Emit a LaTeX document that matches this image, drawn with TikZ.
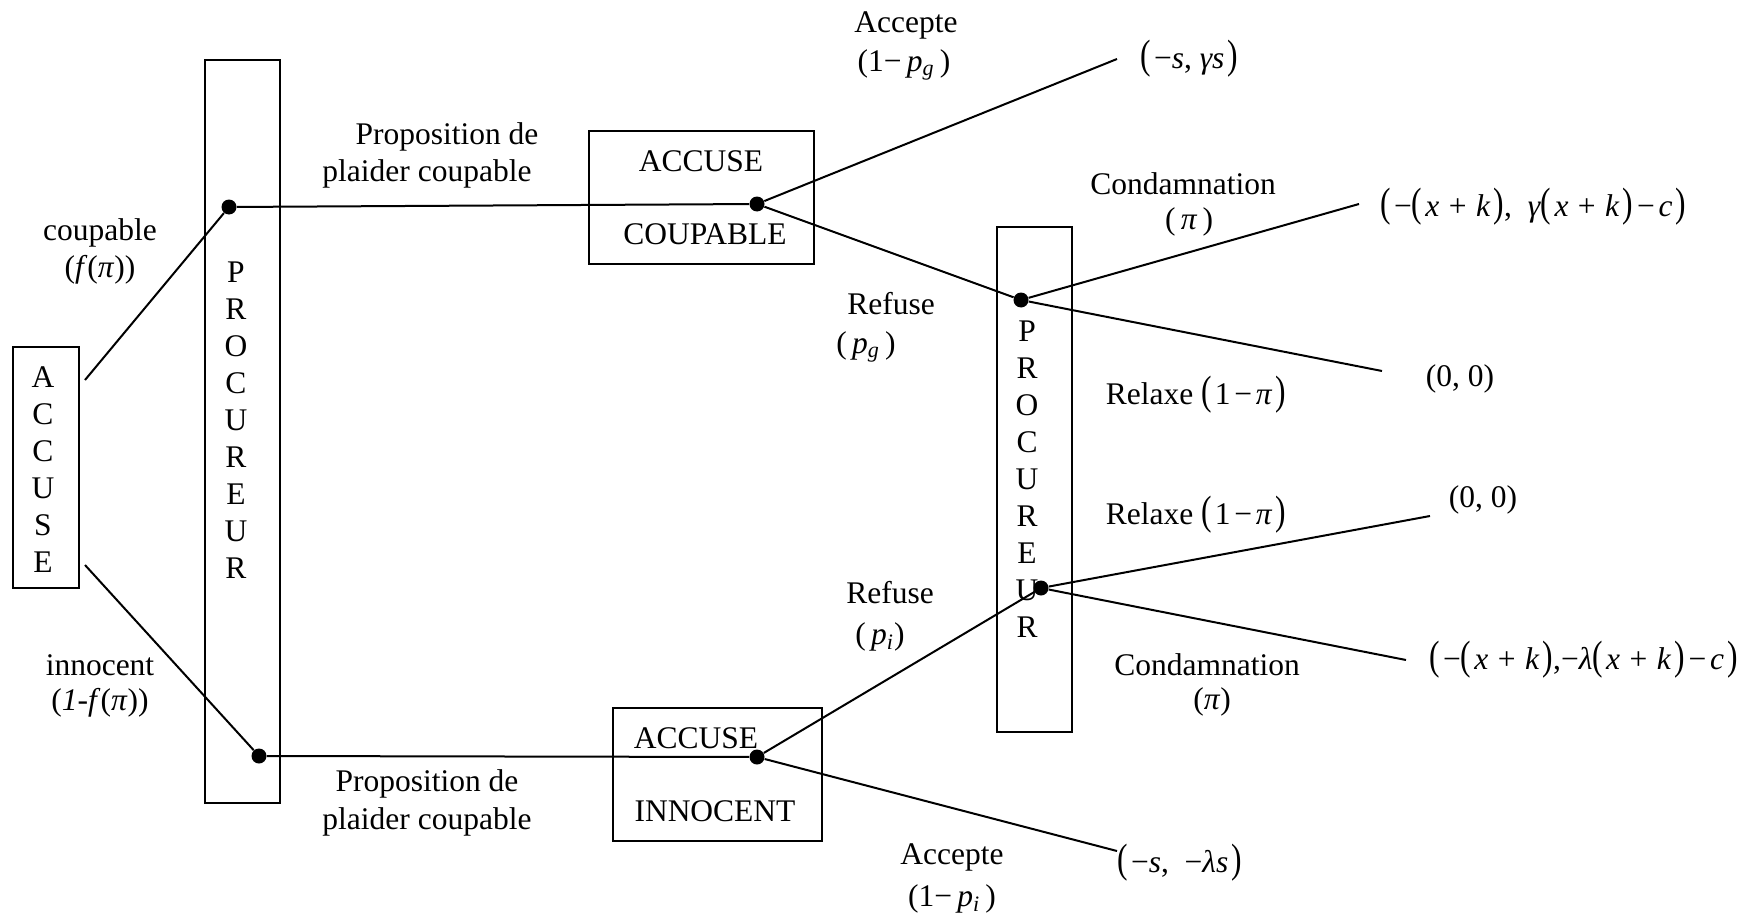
\documentclass[tikz,border=0pt]{standalone}
\usepackage{fontspec}
\setmainfont{Liberation Serif}
\newcommand\LP{\scalebox{1}[1.3]{(}\kern0.1em}
\newcommand\RP{\kern0.1em\scalebox{1}[1.3]{)}}
\newcommand\vi[1]{\textit{#1}}
\newcommand\pl{\hspace{0.3em}+\hspace{0.3em}}
\newcommand\mi{\hspace{0.12em}−\hspace{0.12em}}
\begin{document}
\begin{tikzpicture}[x=0.5pt,y=-0.5pt,
  lbl/.style={inner sep=0pt, font=\fontsize{15.75pt}{18.5pt}\selectfont, align=center},
  frame/.style={draw, line width=1pt, inner sep=0pt},
  dotn/.style={circle, fill, inner sep=0pt, minimum size=7.5pt},
  edge/.style={line width=1pt}]
\useasboundingbox (0,0) rectangle (1751,915);

% boxes
\node[frame, minimum width=33pt, minimum height=120.5pt] (accL) at (46,467.5) {};
\node[lbl] (accLt) at (43,469.5) {A\\C\\C\\U\\S\\E};
\node[frame, minimum width=37.5pt, minimum height=371.5pt] (procL) at (242.5,431.5) {};
\node[lbl] (procLt) at (236,420.5) {P\\R\\O\\C\\U\\R\\E\\U\\R};
\node[frame, minimum width=37.5pt, minimum height=252.5pt] (procR) at (1034.5,479.5) {};
\node[lbl] (procRt) at (1027,479) {P\\R\\O\\C\\U\\R\\E\\U\\R};
\node[frame, minimum width=112.5pt, minimum height=66.5pt] (boxG) at (701.5,197.5) {};
\node[lbl] (boxGa) at (701,161) {ACCUSE};
\node[lbl] (boxGb) at (705,234) {COUPABLE};
\node[frame, minimum width=104.5pt, minimum height=66.5pt] (boxI) at (717.5,774.5) {};
\node[lbl] (boxIa) at (696,738) {ACCUSE};
\node[lbl] (boxIb) at (715,811) {INNOCENT};

% decision dots
\node[dotn] (d1) at (229,207) {};
\node[dotn] (d2) at (757,204) {};
\node[dotn] (d3) at (259,756) {};
\node[dotn] (d4) at (757,757) {};
\node[dotn] (d5) at (1021,300) {};
\node[dotn] (d6) at (1041,588) {};

% free ends
\coordinate (a1) at (85,380);
\coordinate (a2) at (85,565);
\coordinate (e1) at (1117,59);
\coordinate (e2) at (1359,204);
\coordinate (e3) at (1382,371);
\coordinate (e4) at (1430,516);
\coordinate (e5) at (1406,660);
\coordinate (e6) at (1117,851);

% connectors
\draw[edge] (a1) -- (d1);
\draw[edge] (a2) -- (d3);
\draw[edge] (d1) -- (d2);
\draw[edge] (d3) -- (d4);
\draw[edge] (d2) -- (e1);
\draw[edge] (d2) -- (d5);
\draw[edge] (d5) -- (e2);
\draw[edge] (d5) -- (e3);
\draw[edge] (d4) -- (d6);
\draw[edge] (d6) -- (e4);
\draw[edge] (d6) -- (e5);
\draw[edge] (d4) -- (e6);

% payoffs
\node[lbl, anchor=west] (p1) at (1140,59) {\LP−\vi{s}, \vi{γs}\RP};
\node[lbl, anchor=west] (p2) at (1380,207) {\LP−\LP\vi{x}\pl\vi{k}\RP,\ \ \vi{γ}\LP\vi{x}\pl\vi{k}\RP\mi\vi{c}\RP};
\node[lbl] (p3) at (1460,379) {(0, 0)};
\node[lbl] (p4) at (1483,500) {(0, 0)};
\node[lbl, anchor=west] (p5) at (1429,660) {\LP−\LP\vi{x}\pl\vi{k}\RP,−\vi{λ}\LP\vi{x}\pl\vi{k}\RP\mi\vi{c}\RP};
\node[lbl, anchor=west] (p6) at (1117,863) {\LP−\vi{s},\ \ −\vi{λs}\RP};

% branch labels
\node[lbl] (l1a) at (100,233) {coupable};
\node[lbl] (l1b) at (100,270) {(\vi{f}(\vi{π}))};
\node[lbl] (l2a) at (100,665) {innocent};
\node[lbl] (l2b) at (100,703) {(\vi{1-f}(\vi{π}))};
\node[lbl] (l3a) at (447,137) {Proposition de};
\node[lbl] (l3b) at (427,174) {plaider coupable};
\node[lbl] (l4a) at (427,784) {Proposition de};
\node[lbl] (l4b) at (427,822) {plaider coupable};
\node[lbl] (l5a) at (906,25) {Accepte};
\node[lbl] (l5b) at (904,65) {(1−\,\vi{p}\textsubscript{\vi{g}}\,)};
\node[lbl] (l6a) at (891,304) {Refuse};
\node[lbl] (l6b) at (866,347) {(\,\vi{p}\textsubscript{\vi{g}}\,)};
\node[lbl] (l7a) at (1183,184) {Condamnation};
\node[lbl] (l7b) at (1189,222) {(\,\vi{π}\,)};
\node[lbl] (l8) at (1196,395) {Relaxe \LP1\mi\vi{π}\RP};
\node[lbl] (l9) at (1196,515) {Relaxe \LP1\mi\vi{π}\RP};
\node[lbl] (l10a) at (890,593) {Refuse};
\node[lbl] (l10b) at (880,637) {(\,\vi{p}\textsubscript{\vi{i}})};
\node[lbl] (l11a) at (1207,665) {Condamnation};
\node[lbl] (l11b) at (1212,702) {(\vi{π})};
\node[lbl] (l12a) at (952,857) {Accepte};
\node[lbl] (l12b) at (952,899) {(1−\,\vi{p}\textsubscript{\vi{i}}\,)};
\end{tikzpicture}
\end{document}
